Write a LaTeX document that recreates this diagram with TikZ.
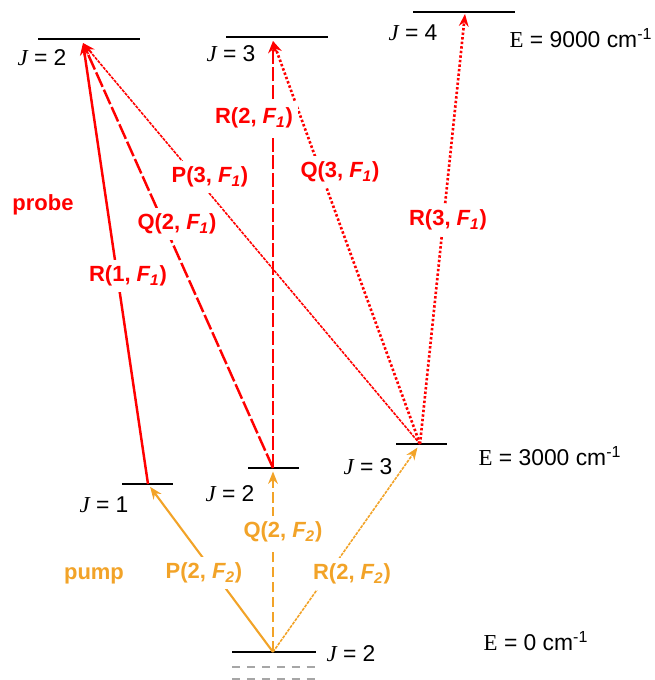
\documentclass[tikz,border=0pt]{standalone}
\usepackage{fontspec}
\setmainfont{Liberation Sans}
\newfontfamily\tnr{Liberation Serif}
\usetikzlibrary{arrows.meta}
\definecolor{dotuoi}{RGB}{255,0,0}
\definecolor{camtuoi}{RGB}{242,163,40}
\newcommand\lineF[3]{#1(#2, \textit{F\textsubscript{#3}})}
\newcommand\JJ[1]{{\tnr\itshape J} = #1}
\newcommand\EE[1]{{\tnr E} = #1 cm\textsuperscript{-1}}
\begin{document}
\begin{tikzpicture}[x=0.2mm,y=-0.2mm,line join=round]
	\useasboundingbox (0,0) rectangle (654,680);
	\tikzset{muc/.style={line width=1.4pt},
		tia/.style={line width=1.4pt,-{Stealth[length=7pt,width=5.5pt]}},
		manh/.style={line width=0.9pt,dash pattern=on 1.8pt off 0.6pt},
		cham/.style={line width=1.5pt,dash pattern=on 1.4pt off 1.2pt},
		nhan/.style={font=\bfseries\fontsize{12.5}{14}\selectfont,fill=white,inner sep=3pt},
		chu/.style={font=\fontsize{13}{15}\selectfont,inner sep=0pt}}
	%mức năng lượng
	\foreach \xa/\xb/\y in {38/140/39,226/328/37,413/515/12,122/173/484,248/299/468,396/447/444,232/316/652}
	\draw[muc] (\xa,\y)--(\xb,\y);
	\foreach \y in {667,679}
	\draw[gray!70,line width=1.4pt,dash pattern=on 4.5pt off 4pt] (232,\y)--(316,\y);
	\path
	(83,43) coordinate (tren2)
	(273,41) coordinate (tren3)
	(465,14) coordinate (tren4)
	(148,484) coordinate (giua1)
	(273,468) coordinate (giua2)
	(420,444) coordinate (giua3)
	(273,652) coordinate (day);
	%probe
	\draw[tia,dotuoi] (giua1)--(tren2);
	\draw[tia,dotuoi,dash pattern=on 9pt off 1.8pt] (giua2)--(tren2);
	\draw[tia,dotuoi,manh] (giua3)--(tren2);
	\draw[tia,dotuoi,dash pattern=on 8pt off 2pt] (giua2)--(tren3);
	\draw[tia,dotuoi,cham] (giua3)--(tren3);
	\draw[tia,dotuoi,cham] (giua3)--(tren4);
	%pump
	\draw[tia,camtuoi,line width=1.2pt,shorten >=2pt] (day)--(giua1);
	\draw[tia,camtuoi,dash pattern=on 6pt off 2.5pt,shorten >=2pt] (day)--(giua2);
	\draw[tia,camtuoi,manh,shorten >=2.5pt] (day)--(giua3);
	%nhãn
	\node[nhan,text=dotuoi] (r1) at (128,276) {\lineF R1 1};
	\node[nhan,text=dotuoi] (q2) at (177,224) {\lineF Q2 1};
	\node[nhan,text=dotuoi] (p3) at (210,177) {\lineF P3 1};
	\node[nhan,text=dotuoi] (r2) at (254,118) {\lineF R2 1};
	\node[nhan,text=dotuoi] (q3) at (340,172) {\lineF Q3 1};
	\node[nhan,text=dotuoi] (r3) at (448,220) {\lineF R3 1};
	\node[nhan,text=camtuoi] (pp2) at (204,573) {\lineF P2 2};
	\node[nhan,text=camtuoi] (qq2) at (283,532) {\lineF Q2 2};
	\node[nhan,text=camtuoi] (rr2) at (352,574) {\lineF R2 2};
	\node[nhan,text=dotuoi] (probe) at (43,205) {probe};
	\node[nhan,text=camtuoi] (pump) at (94,576) {pump};
	\foreach \ten/\x/\y/\j in {ja/42/58/2,jb/231/54/3,jc/413/33/4,jd/104/505/1,je/230/494/2,jf/368/467/3,jg/351/654/2}
	\node[chu] (\ten) at (\x,\y) {\JJ\j};
	\node[chu] (e9) at (581,38) {\EE{9000}};
	\node[chu] (e3) at (550,456) {\EE{3000}};
	\node[chu] (e0) at (536,641) {\EE{0}};
\end{tikzpicture}
\end{document}
